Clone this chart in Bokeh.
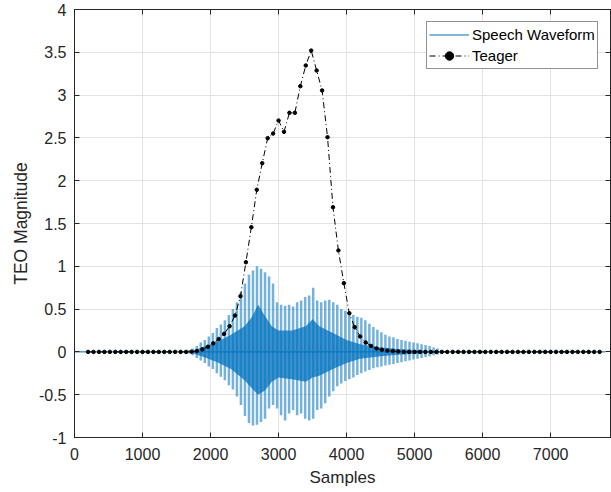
from bokeh.plotting import figure
from bokeh.models import Range1d, LinearAxis, FixedTicker, Legend, LegendItem
from bokeh.embed import file_html
from bokeh.resources import INLINE

# ---------------- data ----------------
x_ticks = [0, 1000, 2000, 3000, 4000, 5000, 6000, 7000]
x_tick_labels = ["0", "1000", "2000", "3000", "4000", "5000", "6000", "7000"]
y_ticks = [-1, -0.5, 0, 0.5, 1, 1.5, 2, 2.5, 3, 3.5, 4]
y_tick_labels = ["-1", "-0.5", "0", "0.5", "1", "1.5", "2", "2.5", "3", "3.5", "4"]

# Teager energy operator (one value per frame, hop of 80 samples)
teager_start = 200
teager_hop = 80
teager_y = [0, 0, 0, 0, 0, 0, 0, 0, 0, 0,
            0, 0, 0, 0, 0, 0, 0, 0, 0, 0.003,
            0.01, 0.03, 0.06, 0.10, 0.15, 0.211, 0.300, 0.425, 0.651, 1.048,
            1.457, 1.894, 2.205, 2.497, 2.551, 2.703, 2.571, 2.793, 2.793, 3.104,
            3.346, 3.52, 3.287, 3.054, 2.508, 1.690, 1.185, 0.803, 0.452, 0.289,
            0.180, 0.11, 0.07, 0.04, 0.025, 0.015, 0.01, 0.005, 0, 0,
            0, 0, 0, 0, 0, 0, 0, 0, 0, 0,
            0, 0, 0, 0, 0, 0, 0, 0, 0, 0,
            0, 0, 0, 0, 0, 0, 0, 0, 0, 0,
            0, 0, 0, 0, 0]
teager_x = [teager_start + teager_hop * i for i in range(len(teager_y))]

# Speech waveform: silent extent, pitch-pulse peaks and dense core envelope
speech_extent_x = [0, 7800]
speech_extent_y = [0, 0]
pulse_start = 1680
pulse_period = 59
pulse_hi = [0.02, 0.04, 0.07, 0.11, 0.14, 0.18, 0.22, 0.28, 0.32, 0.37,
            0.43, 0.50, 0.58, 0.70, 0.80, 0.90, 0.95, 1.00, 0.97, 0.93,
            0.88, 0.80, 0.58, 0.55, 0.54, 0.55, 0.53, 0.58, 0.60, 0.64,
            0.66, 0.75, 0.60, 0.58, 0.60, 0.61, 0.58, 0.55, 0.50, 0.48,
            0.46, 0.43, 0.41, 0.40, 0.37, 0.33, 0.29, 0.26, 0.23, 0.20,
            0.18, 0.17, 0.15, 0.14, 0.13, 0.12, 0.11, 0.10, 0.09, 0.08,
            0.07, 0.05, 0.04, 0.02]
pulse_lo = [-0.02, -0.04, -0.07, -0.10, -0.13, -0.17, -0.20, -0.25, -0.29, -0.33,
            -0.39, -0.44, -0.52, -0.62, -0.75, -0.83, -0.86, -0.85, -0.82, -0.78,
            -0.66, -0.62, -0.66, -0.74, -0.80, -0.72, -0.68, -0.74, -0.72, -0.78,
            -0.80, -0.78, -0.68, -0.66, -0.60, -0.52, -0.46, -0.40, -0.37, -0.34,
            -0.32, -0.30, -0.27, -0.25, -0.23, -0.21, -0.19, -0.18, -0.17, -0.16,
            -0.15, -0.14, -0.13, -0.12, -0.11, -0.10, -0.09, -0.08, -0.07, -0.06,
            -0.05, -0.04, -0.03, -0.02]
pulse_x = [pulse_start + pulse_period * i for i in range(len(pulse_hi))]

core_x = [1680, 1900, 2100, 2300, 2500, 2600, 2700, 2800, 2900, 3000, 3200,
          3400, 3500, 3600, 3800, 4000, 4200, 4500, 4800, 5100, 5400]
core_hi = [0, 0.06, 0.12, 0.20, 0.30, 0.40, 0.55, 0.42, 0.30, 0.25, 0.25,
           0.30, 0.38, 0.30, 0.22, 0.14, 0.09, 0.05, 0.03, 0.02, 0]
core_lo = [0, -0.06, -0.12, -0.20, -0.33, -0.42, -0.50, -0.45, -0.35, -0.30, -0.32,
           -0.35, -0.30, -0.28, -0.20, -0.13, -0.08, -0.05, -0.03, -0.02, 0]

# ---------------- styles ----------------
FONT = "Liberation Sans"
TXT = "#262626"
BLUE = "#0072BD"

p = figure(width=611, height=492,
           x_range=Range1d(0, 7880), y_range=Range1d(-1, 4),
           output_backend="svg", toolbar_location=None,
           min_border_left=74, min_border_right=1,
           min_border_top=9, min_border_bottom=55,
           background_fill_color="white", border_fill_color="white",
           outline_line_color=TXT, outline_line_width=1)

# speech waveform
r_speech = p.line(speech_extent_x, speech_extent_y, line_color=BLUE, line_width=1)
p.segment(x0=pulse_x, y0=pulse_lo, x1=pulse_x, y1=pulse_hi,
          line_color=BLUE, line_width=2.5, line_alpha=0.55)
p.varea(x=core_x, y1=core_lo, y2=core_hi, fill_color=BLUE, fill_alpha=0.75)

# teager
r_tline = p.line(teager_x, teager_y, line_color="black", line_width=1, line_dash="6 3 1 3")
r_tdots = p.scatter(teager_x, teager_y, size=3.5, marker="circle",
                    fill_color="black", line_color="black")

# axes
for ax in (p.xaxis[0], p.yaxis[0]):
    ax.major_tick_in = 5
    ax.major_tick_out = 0
    ax.minor_tick_line_color = None
    ax.axis_line_color = TXT
    ax.major_tick_line_color = TXT
    ax.major_label_text_font = FONT
    ax.major_label_text_font_size = "16px"
    ax.major_label_text_color = TXT
    ax.axis_label_text_font = FONT
    ax.axis_label_text_font_style = "normal"
    ax.axis_label_text_color = TXT

p.xaxis.ticker = FixedTicker(ticks=x_ticks)
p.xaxis.major_label_overrides = dict(zip(x_ticks, x_tick_labels))
p.xaxis.axis_label = "Samples"
p.xaxis.axis_label_text_font_size = "17px"
p.xaxis.major_label_standoff = 10
p.xaxis.axis_label_standoff = 5

p.yaxis.ticker = FixedTicker(ticks=y_ticks)
p.yaxis.major_label_overrides = dict(zip(y_ticks, y_tick_labels))
p.yaxis.axis_label = "TEO Magnitude"
p.yaxis.axis_label_text_font_size = "17.5px"
p.yaxis.major_label_standoff = 8
p.yaxis.axis_label_standoff = 5

for loc, ticks in (("above", x_ticks), ("right", y_ticks)):
    ax = LinearAxis(ticker=FixedTicker(ticks=ticks))
    ax.major_tick_in = 5
    ax.major_tick_out = 0
    ax.minor_tick_line_color = None
    ax.axis_line_color = TXT
    ax.major_tick_line_color = TXT
    ax.major_label_text_font_size = "0px"
    ax.major_label_text_alpha = 0
    ax.major_label_standoff = 0
    p.add_layout(ax, loc)

p.xgrid.ticker = FixedTicker(ticks=x_ticks)
p.ygrid.ticker = FixedTicker(ticks=y_ticks)
p.grid.grid_line_color = "#e3e3e3"
p.grid.grid_line_width = 1

legend = Legend(items=[LegendItem(label="Speech Waveform", renderers=[r_speech]),
                       LegendItem(label="Teager", renderers=[r_tline, r_tdots])],
                location=(352, 368))
legend.label_text_font = FONT
legend.label_text_font_size = "15px"
legend.label_text_color = "black"
legend.border_line_color = TXT
legend.border_line_width = 1
legend.background_fill_color = "white"
legend.background_fill_alpha = 1
legend.padding = 2
legend.spacing = 0
legend.margin = 0
legend.glyph_width = 40
legend.glyph_height = 21
legend.label_height = 21
legend.label_standoff = 3
p.add_layout(legend)

open("out.html", "w").write(file_html(p, INLINE))
